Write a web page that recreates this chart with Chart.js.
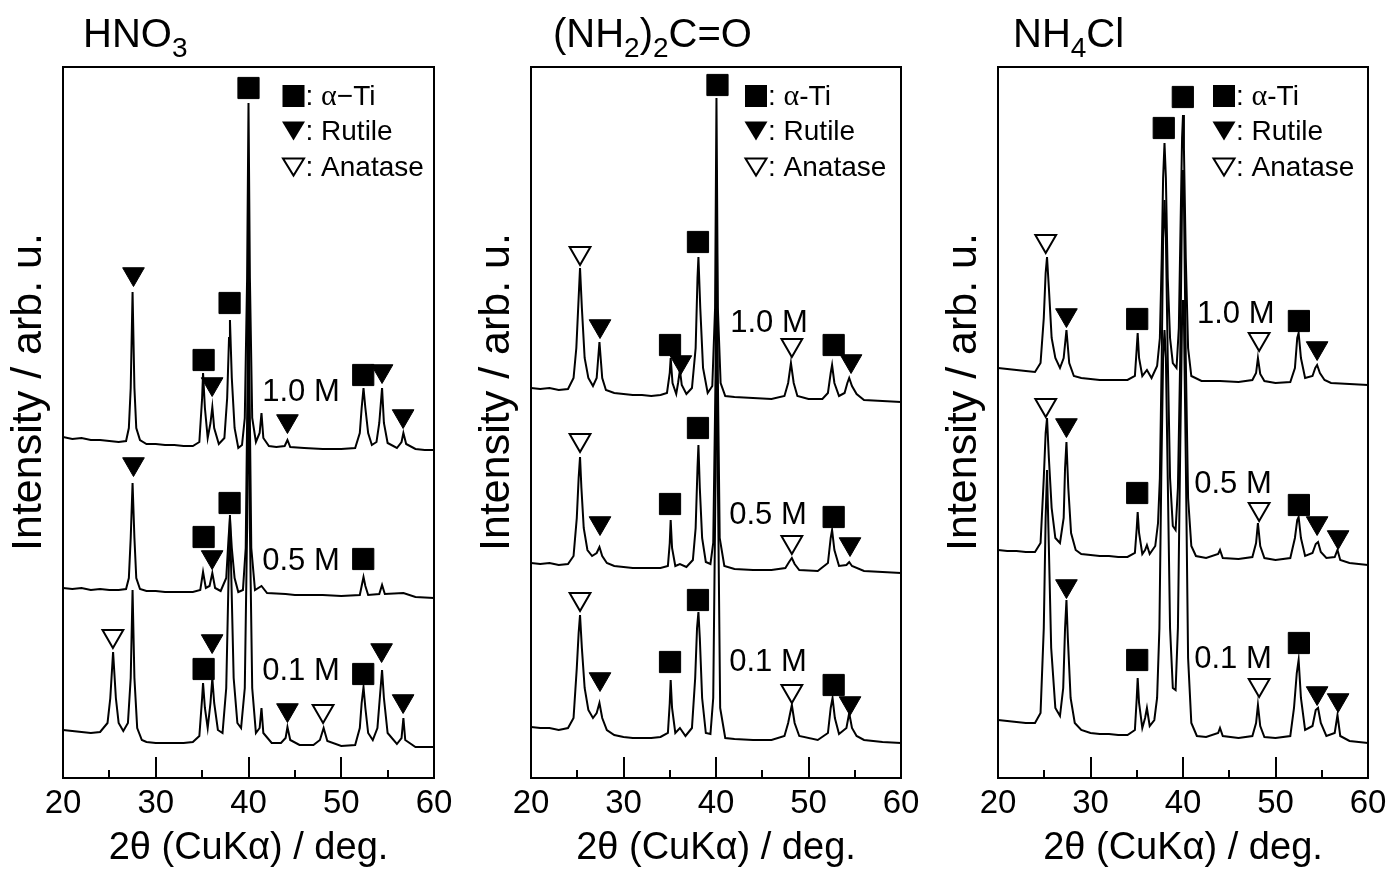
<!DOCTYPE html>
<html><head><meta charset="utf-8">
<script src="https://cdn.jsdelivr.net/npm/chart.js@4.4.1/dist/chart.umd.min.js"></script>
<style>
html,body{margin:0;padding:0;background:#fff;}
#wrap{position:relative;width:1394px;height:877px;overflow:hidden;background:#fff}
canvas{position:absolute;top:0}
</style></head><body>
<div id="wrap">
<canvas id="c1" width="465" height="877" style="left:0px"></canvas>
<canvas id="c2" width="465" height="877" style="left:465px"></canvas>
<canvas id="c3" width="464" height="877" style="left:930px"></canvas>
</div>
<script>
// ---------- axis / text data ----------
const X_TICKS = [20, 30, 40, 50, 60];
const X_MINOR = [25, 35, 45, 55];
const X_TITLE = '2θ (CuKα) / deg.';
const Y_TITLE = 'Intensity / arb. u.';
const CONCENTRATIONS = ['1.0 M', '0.5 M', '0.1 M'];
const TITLE_HNO3 = [['HNO', 0], ['3', 1]];
const TITLE_UREA = [['(NH', 0], ['2', 1], [')', 0], ['2', 1], ['C=O', 0]];
const TITLE_NH4CL = [['NH', 0], ['4', 1], ['Cl', 0]];
const LEGEND_HNO3 = ['α', '−Ti', 'Rutile', 'Anatase'];
const LEGEND_OTHER = ['α', '-Ti', 'Rutile', 'Anatase'];

// ---------- HNO3 traces [2θ, intensity] ----------
const HNO3_10M = [[20,341],[21,339],[22,340],[23,338],[24,338],[25,337],[26,336],[26.8,337],[27.1,350],[27.3,390],[27.5,486],[27.7,390],[27.9,350],[28.3,338],[29,334],[30,334],[31,333],[32,333],[33,332],[34,332],[34.7,336],[35.0,380],[35.1,405],[35.3,370],[35.6,340],[35.9,355],[36.1,371],[36.3,350],[36.8,334],[37.4,340],[37.7,380],[37.9,440],[38.0,458],[38.2,400],[38.5,350],[38.9,330],[39.3,333],[39.6,360],[39.85,500],[40.0,675],[40.15,500],[40.4,360],[40.8,336],[41.2,345],[41.4,365],[41.6,340],[42.2,332],[43,331],[43.9,332],[44.2,338],[44.5,331],[46,330],[48,329],[50,329],[51.5,330],[52.0,345],[52.2,370],[52.4,390],[52.6,370],[52.9,345],[53.3,333],[53.8,336],[54.1,355],[54.4,390],[54.6,355],[55,335],[56,330],[56.5,336],[56.7,345],[57.0,334],[58,329],[59,328],[60,328]];
const HNO3_05M = [[20,190],[21,189],[22,190],[23,188],[24,189],[25,188],[26,188],[26.8,189],[27.1,200],[27.3,240],[27.5,295],[27.7,240],[27.9,200],[28.3,189],[29,187],[30,187],[31,186],[32,186],[33,186],[34,186],[34.8,188],[35.1,206],[35.4,190],[35.8,192],[36.1,205],[36.4,190],[37,187],[37.6,200],[37.85,240],[38.0,260],[38.2,230],[38.5,200],[38.9,186],[39.4,188],[39.7,230],[39.9,400],[40.0,595],[40.1,400],[40.3,230],[40.7,188],[41.4,192],[42,185],[44,184],[45,183],[48,183],[50,182],[52,183],[52.2,192],[52.4,201],[52.6,192],[52.9,183],[54.1,184],[54.4,193],[54.7,184],[56.7,185],[58,181],[60,180]];
const HNO3_01M = [[20,48],[21,47],[22,46],[23,45],[24,46],[24.8,55],[25.1,80],[25.4,126],[25.7,80],[26.0,55],[26.5,47],[27.0,55],[27.3,100],[27.5,188],[27.7,100],[28.0,50],[28.5,38],[29,36],[30,35],[31,35],[32,35],[33,35],[34,36],[34.7,42],[35.0,80],[35.1,95],[35.3,70],[35.6,50],[35.9,75],[36.1,100],[36.3,75],[36.7,48],[37.2,45],[37.6,90],[37.85,200],[38.0,263],[38.15,200],[38.4,100],[38.8,55],[39.2,50],[39.6,90],[39.85,250],[40.0,448],[40.15,250],[40.4,90],[40.8,45],[41.2,50],[41.4,70],[41.6,45],[42.5,35],[43.5,35],[44.0,40],[44.2,51],[44.5,38],[45.5,33],[47,33],[47.7,38],[48.1,50],[48.5,37],[50,32],[51.5,33],[52.0,50],[52.2,75],[52.4,91],[52.6,70],[52.9,45],[53.4,38],[53.9,50],[54.2,85],[54.4,108],[54.6,80],[55,45],[56,34],[56.5,40],[56.7,60],[56.9,38],[58,31],[60,31]];
const HNO3_TI  = [[35.16,418],[37.96,475],[40.0,690],[52.37,403],[35.16,241],[37.96,275],[52.37,219],[35.16,109],[52.37,104]];
const HNO3_RUT = [[27.6,504],[36.08,394],[44.2,357],[54.4,407],[56.67,362],[27.6,314],[36.08,221],[36.08,137],[44.2,68],[54.35,128],[56.67,77]];
const HNO3_ANA = [[25.38,142],[48.04,67]];

// ---------- (NH2)2C=O traces ----------
const UREA_10M = [[20,390],[21,389],[22,390],[23,388],[24,389],[24.6,400],[24.9,430],[25.15,480],[25.3,510],[25.5,470],[25.8,420],[26.2,400],[26.7,392],[27.1,400],[27.4,436],[27.7,400],[28.1,388],[29,385],[30,384],[31,383],[32,383],[33,382],[34,383],[34.7,385],[35.0,405],[35.1,420],[35.3,395],[35.7,384],[35.9,395],[36.1,408],[36.3,393],[36.8,384],[37.4,390],[37.8,430],[38.0,500],[38.1,521],[38.3,470],[38.6,410],[39.1,385],[39.6,392],[39.9,470],[40.05,680],[40.2,470],[40.5,395],[41,382],[42,381],[44,380],[46,379],[47.4,382],[47.8,395],[48.1,415],[48.4,395],[48.8,382],[50,379],[51.5,379],[52.1,385],[52.4,405],[52.55,413],[52.8,395],[53.3,382],[53.9,385],[54.2,395],[54.4,400],[54.7,392],[55.2,384],[56,378],[58,377],[60,376]];
const UREA_05M = [[20,215],[21,214],[22,215],[23,213],[24,214],[24.6,222],[24.95,260],[25.15,300],[25.3,321],[25.45,290],[25.7,250],[26.1,228],[26.6,222],[27.1,225],[27.4,231],[27.7,222],[28.2,215],[29,212],[30,211],[31,210],[32,210],[33,210],[34,210],[34.8,212],[35.0,235],[35.1,258],[35.25,230],[35.6,212],[36.1,214],[36.8,211],[37.5,218],[37.8,250],[38.0,310],[38.1,333],[38.25,290],[38.5,240],[38.9,216],[39.4,214],[39.7,235],[39.95,400],[40.05,608],[40.2,400],[40.4,240],[40.9,212],[42,209],[44,208],[46,208],[47.5,210],[47.9,216],[48.2,220],[48.5,214],[49,208],[51,207],[52.1,215],[52.4,240],[52.55,248],[52.8,228],[53.3,212],[54.1,213],[54.4,216],[54.7,212],[56,207],[58,206],[60,205]];
const UREA_01M = [[20,51],[21,50],[22,50],[23,48],[24,50],[24.6,60],[24.95,110],[25.15,145],[25.3,163],[25.5,130],[25.8,90],[26.2,68],[26.7,60],[27.1,65],[27.4,75],[27.7,60],[28.2,48],[29,43],[30,41],[31,40],[32,40],[33,40],[34,41],[34.8,45],[35.0,75],[35.1,98],[35.25,70],[35.6,45],[36.1,50],[36.7,42],[37.4,50],[37.75,100],[37.95,150],[38.1,166],[38.25,140],[38.5,80],[38.9,45],[39.4,44],[39.7,80],[39.95,300],[40.05,528],[40.2,300],[40.45,70],[41,40],[42,39],[44,38],[46,38],[47.4,42],[47.8,55],[48.2,73],[48.5,55],[49,42],[51,38],[52.1,45],[52.4,70],[52.6,80],[52.85,60],[53.3,44],[54.1,50],[54.4,65],[54.7,50],[55.2,42],[56,38],[58,36],[60,35]];
const UREA_TI  = [[35.03,433],[38.05,536],[40.16,693],[52.72,433],[35.03,274],[38.05,350],[52.72,261],[35.03,116],[38.05,178],[52.72,93]];
const UREA_RUT = [[27.46,452],[36.2,416],[54.6,417],[27.46,255],[54.49,234],[27.46,99],[54.49,75]];
const UREA_ANA = [[25.3,525],[48.2,433],[25.3,338],[48.2,236],[25.3,179],[48.2,87]];

// ---------- NH4Cl traces ----------
const NH4CL_10M = [[20,410],[21,409],[22,408],[23,407],[24,406],[24.6,415],[24.95,460],[25.15,505],[25.3,521],[25.5,490],[25.8,440],[26.2,420],[26.7,410],[27.1,420],[27.4,448],[27.7,415],[28.2,402],[29,400],[30,399],[31,398],[32,398],[33,398],[34,398],[34.8,402],[35.0,430],[35.1,445],[35.25,420],[35.6,402],[36.1,408],[36.6,400],[37.2,412],[37.5,440],[37.7,520],[37.85,600],[38.0,635],[38.15,600],[38.35,500],[38.6,440],[38.9,415],[39.3,410],[39.55,450],[39.75,560],[39.9,640],[40.0,663],[40.1,630],[40.3,520],[40.55,430],[40.9,402],[42,397],[44,397],[46,396],[47.5,398],[47.9,405],[48.1,420],[48.35,404],[48.8,397],[50,395],[51.6,396],[52.1,410],[52.35,440],[52.5,445],[52.75,420],[53.2,400],[54.0,402],[54.3,410],[54.5,413],[54.8,405],[55.3,398],[56,395],[58,394],[60,393]];
const NH4CL_05M = [[20,228],[21,227],[22,227],[23,226],[24,226],[24.6,235],[24.95,300],[25.15,345],[25.3,360],[25.5,320],[25.8,270],[26.2,240],[26.7,235],[27.1,260],[27.25,310],[27.4,336],[27.6,290],[27.9,245],[28.4,228],[29,224],[30,223],[31,222],[32,222],[33,221],[34,221],[34.8,225],[35.0,250],[35.1,266],[35.25,245],[35.6,224],[35.9,228],[36.1,233],[36.4,224],[37.0,232],[37.3,255],[37.5,300],[37.7,420],[37.85,540],[38.0,578],[38.15,540],[38.35,420],[38.6,300],[38.9,252],[39.2,248],[39.45,290],[39.7,420],[39.9,580],[40.0,608],[40.1,580],[40.3,420],[40.55,280],[40.9,232],[41.4,222],[42.5,220],[43.8,224],[44.0,228],[44.3,220],[46,219],[47.5,221],[47.9,235],[48.1,255],[48.35,232],[48.8,220],[50,218],[51.6,220],[52.1,240],[52.35,258],[52.5,261],[52.75,240],[53.2,222],[54.0,225],[54.35,234],[54.6,236],[54.9,226],[55.5,220],[56.4,221],[56.7,228],[57.0,218],[58,215],[60,213]];
const NH4CL_01M = [[20,58],[21,57],[22,56],[23,55],[24,55],[24.6,65],[24.95,150],[25.15,260],[25.3,308],[25.45,250],[25.75,130],[26.2,70],[26.7,62],[27.05,90],[27.25,150],[27.4,178],[27.55,140],[27.85,80],[28.3,55],[29,48],[30,45],[31,44],[32,44],[33,43],[34,43],[34.8,48],[35.0,80],[35.1,100],[35.25,75],[35.6,50],[35.9,60],[36.1,70],[36.4,52],[36.9,58],[37.2,80],[37.45,150],[37.65,300],[37.85,420],[38.0,448],[38.15,420],[38.35,300],[38.6,150],[38.9,90],[39.2,88],[39.45,150],[39.7,330],[39.9,460],[40.0,478],[40.1,460],[40.3,320],[40.55,120],[40.9,55],[41.5,42],[42.5,41],[43.8,45],[44.0,50],[44.3,42],[46,40],[47.5,42],[47.9,55],[48.1,73],[48.35,52],[48.8,41],[50,40],[51.6,42],[52.0,70],[52.3,105],[52.5,118],[52.75,80],[53.2,48],[54.0,52],[54.35,68],[54.6,70],[54.9,55],[55.5,42],[56.4,45],[56.7,63],[57.0,42],[58,37],[60,35]];
const NH4CL_TI  = [[35.05,459],[37.92,650],[39.98,681],[52.53,457],[35.05,285],[52.53,273],[35.05,118],[52.53,135]];
const NH4CL_RUT = [[27.4,463],[54.5,430],[27.4,353],[54.5,255],[56.77,241],[27.4,192],[54.5,85],[56.77,78]];
const NH4CL_ANA = [[25.16,537],[48.23,439],[25.16,373],[48.23,269],[48.23,93]];

// ---------- layout (positions / styles) ----------
const FONT = '"Liberation Sans", Arial, Helvetica, sans-serif';
const SERIF = '"Liberation Serif", "Times New Roman", serif';
const PANELS = [
  {canvas:'c1', title:TITLE_HNO3, legend:LEGEND_HNO3, traces:[HNO3_10M,HNO3_05M,HNO3_01M], ti:HNO3_TI, rut:HNO3_RUT, ana:HNO3_ANA,
   pad:{left:63,right:31}, titleDx:20, legendDx:230.5, labelPos:[[45.66,386],[45.66,217],[45.66,107]]},
  {canvas:'c2', title:TITLE_UREA, legend:LEGEND_OTHER, traces:[UREA_10M,UREA_05M,UREA_01M], ti:UREA_TI, rut:UREA_RUT, ana:UREA_ANA,
   pad:{left:66,right:29}, titleDx:22, legendDx:225, labelPos:[[45.73,455],[45.62,263],[45.62,116]]},
  {canvas:'c3', title:TITLE_NH4CL, legend:LEGEND_OTHER, traces:[NH4CL_10M,NH4CL_05M,NH4CL_01M], ti:NH4CL_TI, rut:NH4CL_RUT, ana:NH4CL_ANA,
   pad:{left:68,right:26}, titleDx:15, legendDx:226, labelPos:[[45.7,464],[45.4,294],[45.4,119]]}
];
const Y_MAX = 711;

function drawTri(ctx, x, y, w, h, filled) {
  ctx.beginPath();
  ctx.moveTo(x - w/2, y - h/2); ctx.lineTo(x + w/2, y - h/2); ctx.lineTo(x, y + h/2); ctx.closePath();
  if (filled) { ctx.fillStyle = '#000'; ctx.fill(); }
  else { ctx.fillStyle = '#fff'; ctx.fill(); ctx.lineWidth = 2; ctx.strokeStyle = '#000'; ctx.stroke(); }
}
function drawSegs(ctx, segs, x, y) {
  segs.forEach(s => { ctx.font = s[1]; ctx.fillText(s[0], x, y + (s[2] || 0)); x += ctx.measureText(s[0]).width; });
}

function makePlugin(p) {
  return {
    id: 'deco_' + p.canvas,
    afterDraw(chart) {
      const ctx = chart.ctx, a = chart.chartArea, xs = chart.scales.x, ys = chart.scales.y;
      ctx.save();
      // frame
      ctx.strokeStyle = '#000'; ctx.lineWidth = 2;
      ctx.strokeRect(a.left, a.top, a.right - a.left, a.bottom - a.top);
      // inward ticks
      ctx.beginPath();
      X_TICKS.forEach(v => { const px = Math.round(xs.getPixelForValue(v)); ctx.moveTo(px, a.bottom); ctx.lineTo(px, a.bottom - 21); });
      X_MINOR.forEach(v => { const px = Math.round(xs.getPixelForValue(v)); ctx.moveTo(px, a.bottom); ctx.lineTo(px, a.bottom - 8); });
      ctx.stroke();
      // concentration labels
      ctx.fillStyle = '#000'; ctx.textAlign = 'center'; ctx.textBaseline = 'middle';
      ctx.font = '31px ' + FONT;
      CONCENTRATIONS.forEach((t, i) => ctx.fillText(t, xs.getPixelForValue(p.labelPos[i][0]), ys.getPixelForValue(p.labelPos[i][1])));
      // legend
      const lx = a.left + p.legendDx, rows = [a.top + 29, a.top + 64, a.top + 100];
      ctx.fillStyle = '#000';
      ctx.fillRect(lx - 11, rows[0] - 11, 22, 22);
      drawTri(ctx, lx, rows[1], 23, 19, true);
      drawTri(ctx, lx, rows[2], 21, 17, false);
      ctx.fillStyle = '#000'; ctx.textAlign = 'left'; ctx.textBaseline = 'middle';
      const f = '28px ' + FONT, fs = '30px ' + SERIF;
      drawSegs(ctx, [[': ', f], [p.legend[0], fs], [p.legend[1], f]], lx + 12, rows[0] + 1);
      drawSegs(ctx, [[': ' + p.legend[2], f]], lx + 12, rows[1] + 1);
      drawSegs(ctx, [[': ' + p.legend[3], f]], lx + 12, rows[2] + 1);
      // panel title
      ctx.textBaseline = 'alphabetic';
      drawSegs(ctx, p.title.map(s => s[1] ? [s[0], '28px ' + FONT, 10] : [s[0], '40px ' + FONT, 0]), a.left + p.titleDx, 47);
      // y-axis title
      ctx.save();
      ctx.translate(a.left - 34, 392); ctx.rotate(-Math.PI / 2);
      ctx.textAlign = 'center'; ctx.textBaseline = 'middle'; ctx.font = '43px ' + FONT;
      ctx.fillText(Y_TITLE, 0, 0);
      ctx.restore();
      ctx.restore();
    }
  };
}

function buildChart(p) {
  const mk = {showLine:false, order:0, pointHoverRadius:0};
  const datasets = [
    {...mk, data:p.ti, pointStyle:'rect', pointRadius:15, pointBackgroundColor:'#000', pointBorderColor:'#000', pointBorderWidth:1},
    {...mk, data:p.rut, pointStyle:'triangle', pointRotation:180, pointRadius:12.5, pointBackgroundColor:'#000', pointBorderColor:'#000', pointBorderWidth:1},
    {...mk, data:p.ana, pointStyle:'triangle', pointRotation:180, pointRadius:12, pointBackgroundColor:'#fff', pointBorderColor:'#000', pointBorderWidth:2}
  ];
  p.traces.forEach(t => datasets.push({data:t, showLine:true, order:1, borderColor:'#000', borderWidth:2, pointRadius:0, pointHoverRadius:0, tension:0, fill:false}));
  new Chart(document.getElementById(p.canvas), {
    type: 'scatter',
    data: {datasets},
    options: {
      responsive:false, animation:false, events:[],
      layout: {padding:{left:p.pad.left, right:p.pad.right, top:67, bottom:0}},
      scales: {
        x: {type:'linear', min:20, max:60, position:'bottom',
            afterFit: s => { s.height = 99; },
            grid:{display:false, drawTicks:false}, border:{display:false},
            ticks:{stepSize:10, autoSkip:false, maxRotation:0, padding:6, color:'#000', font:{family:FONT, size:33}},
            title:{display:true, text:X_TITLE, color:'#000', font:{family:FONT, size:38}, padding:{top:0, bottom:6}}},
        y: {type:'linear', min:0, max:Y_MAX, display:false}
      },
      plugins: {legend:{display:false}, tooltip:{enabled:false}}
    },
    plugins: [makePlugin(p)]
  });
}
PANELS.forEach(buildChart);
</script>
</body></html>
